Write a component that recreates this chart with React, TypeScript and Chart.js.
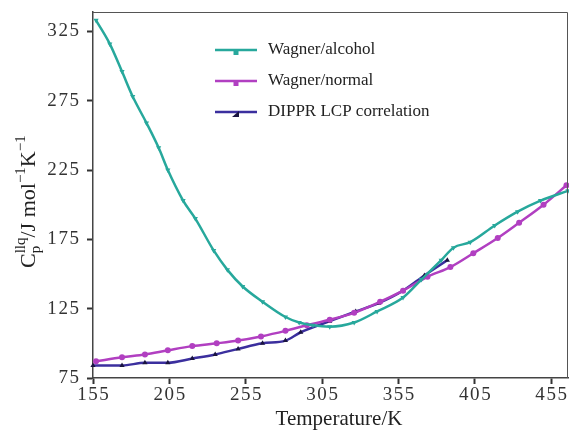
import React, { useEffect, useRef } from "react";
import { Chart, registerables } from "chart.js";

Chart.register(...registerables);

const alcoholT = [157, 166, 174, 181, 190, 198, 204, 214, 222, 234, 243, 253, 266, 281, 290, 299, 310, 326, 341, 358, 370, 383, 391, 402, 418, 433, 448, 466];
const alcoholCp = [333, 316, 296, 278, 259, 241, 225, 203, 190, 167, 153, 141, 130, 119, 115, 113, 112, 115, 123, 133, 146, 160, 169, 173, 185, 195, 203, 210];

const normalT = [157, 174, 189, 204, 220, 236, 250, 265, 281, 295, 310, 326, 343, 358, 374, 389, 404, 420, 434, 450, 465];
const normalCp = [87, 90, 92, 95, 98, 100, 102, 105, 109, 113, 117, 122, 130, 138, 148, 155, 165, 176, 187, 200, 214];

const dipprT = [155, 174, 189, 204, 220, 235, 250, 266, 281, 291, 310, 327, 342, 358, 372, 387];
const dipprCp = [84, 84, 86, 86, 89, 92, 96, 100, 102, 108, 116, 123, 129, 138, 149, 160];

const xTicks = [155, 205, 255, 305, 355, 405, 455];
const yTicks = [75, 125, 175, 225, 275, 325];

const seriesNames = ["Wagner/alcohol", "Wagner/normal", "DIPPR LCP correlation"];
const seriesColors = ["#27a89c", "#b13fc1", "#3b2f9e"];
const markerColors = ["#27a89c", "#b13fc1", "#1a1440"];
const markerStyles = ["triangle", "circle", "triangle"];
const markerRotations = [180, 0, 0];

const FONT = "'Liberation Serif', 'Times New Roman', serif";

const spaced = (v: number | string) => String(v).split("").join("\u200A");

const toPoints = (xs: number[], ys: number[]) => xs.map((x, i) => ({ x, y: ys[i] }));

export default function App() {
  const ref = useRef<HTMLCanvasElement | null>(null);

  useEffect(() => {
    const canvas = ref.current;
    if (!canvas) return;

    const framePlugin = {
      id: "frameAndTitles",
      afterDraw(chart: any) {
        const { ctx, chartArea } = chart;
        ctx.save();
        // frame
        ctx.strokeStyle = "#555";
        ctx.lineWidth = 1;
        ctx.beginPath();
        ctx.moveTo(chartArea.left, chartArea.top + 0.5);
        ctx.lineTo(chartArea.right - 0.5, chartArea.top + 0.5);
        ctx.lineTo(chartArea.right - 0.5, chartArea.bottom);
        ctx.stroke();

        // x title
        ctx.fillStyle = "#222";
        ctx.font = `21px ${FONT}`;
        ctx.textAlign = "center";
        ctx.textBaseline = "alphabetic";
        ctx.fillText("Temperature/K", 339, 425);

        // y title with sub/superscripts
        ctx.translate(35, 268);
        ctx.rotate(-Math.PI / 2);
        ctx.textAlign = "left";
        const big = `22px ${FONT}`;
        const small = `15px ${FONT}`;
        let x = 0;
        const put = (t: string, font: string, dy: number) => {
          ctx.font = font;
          ctx.fillText(t, x, dy);
          return ctx.measureText(t).width;
        };
        x += put("C", big, 0);
        const supStart = x;
        const wSup = put("llq", small, -10);
        ctx.font = small;
        ctx.fillText("p", supStart, 5);
        const wSub = ctx.measureText("p").width;
        x = supStart + Math.max(wSup, wSub);
        x += put("/J mol", big, 0);
        x += put("\u22121", small, -10);
        x += put("K", big, 0);
        x += put("\u22121", small, -10);
        ctx.restore();

        // legend
        ctx.save();
        const ly = [50, 81, 112];
        for (let i = 0; i < 3; i++) {
          ctx.strokeStyle = seriesColors[i];
          ctx.lineWidth = 2.5;
          ctx.beginPath();
          ctx.moveTo(215, ly[i]);
          ctx.lineTo(257, ly[i]);
          ctx.stroke();
          ctx.fillStyle = markerColors[i];
          const mx = 236;
          const my = ly[i] + 2;
          ctx.beginPath();
          if (i === 2) {
            ctx.moveTo(mx - 4, my + 3);
            ctx.lineTo(mx + 3, my + 3);
            ctx.lineTo(mx + 3, my - 3);
            ctx.closePath();
          } else {
            ctx.rect(mx - 2.5, my - 1, 5, 4);
          }
          ctx.fill();
          ctx.fillStyle = "#222";
          ctx.font = `17px ${FONT}`;
          ctx.textAlign = "left";
          ctx.textBaseline = "middle";
          ctx.fillText(seriesNames[i], 268, ly[i]);
        }
        ctx.restore();
      },
    };

    const datasets = [
      { xs: alcoholT, ys: alcoholCp },
      { xs: normalT, ys: normalCp },
      { xs: dipprT, ys: dipprCp },
    ].map((s, i) => ({
      label: seriesNames[i],
      data: toPoints(s.xs, s.ys),
      borderColor: seriesColors[i],
      backgroundColor: markerColors[i],
      borderWidth: 2.5,
      pointStyle: markerStyles[i] as any,
      pointRotation: markerRotations[i],
      pointRadius: 3,
      pointBorderWidth: 0,
      pointBackgroundColor: markerColors[i],
      cubicInterpolationMode: "monotone" as const,
      fill: false,
      clip: 4,
    }));

    const chart = new Chart(canvas, {
      type: "line",
      data: { datasets },
      options: {
        responsive: false,
        animation: false,
        layout: { autoPadding: false, padding: { top: 12, right: 1, left: 0, bottom: 0 } },
        plugins: {
          legend: { display: false },
          tooltip: { enabled: false },
        },
        scales: {
          x: {
            type: "linear",
            min: 155,
            max: 466,
            afterBuildTicks: (scale: any) => {
              scale.ticks = xTicks.map((v) => ({ value: v }));
            },
            afterFit: (scale: any) => {
              scale.height = 54;
              scale.paddingLeft = 0;
              scale.paddingRight = 0;
            },
            grid: {
              drawOnChartArea: false,
              drawTicks: true,
              tickLength: 6,
              tickWidth: 2,
              tickColor: "#333",
            },
            border: { display: true, color: "#444", width: 1.5 },
            ticks: {
              padding: 0,
              color: "#333",
              font: { family: FONT, size: 19 },
              maxRotation: 0,
              autoSkip: false,
              callback: (v: any) => spaced(v),
            },
          },
          y: {
            type: "linear",
            min: 75,
            max: 339,
            afterBuildTicks: (scale: any) => {
              scale.ticks = yTicks.map((v) => ({ value: v }));
            },
            afterFit: (scale: any) => {
              scale.width = 93;
              scale.paddingTop = 0;
              scale.paddingBottom = 0;
            },
            grid: {
              drawOnChartArea: false,
              drawTicks: true,
              tickLength: 6,
              tickWidth: 2,
              tickColor: "#333",
            },
            border: { display: true, color: "#444", width: 1.5 },
            ticks: {
              padding: 8,
              color: "#333",
              font: { family: FONT, size: 19 },
              autoSkip: false,
              callback: (v: any) => spaced(v),
            },
          },
        },
      },
      plugins: [framePlugin],
    });

    return () => chart.destroy();
  }, []);

  return (
    <div style={{ position: "fixed", left: 0, top: 0, width: 569, height: 432, background: "#fff" }}>
      <canvas ref={ref} width={569} height={432} />
    </div>
  );
}
